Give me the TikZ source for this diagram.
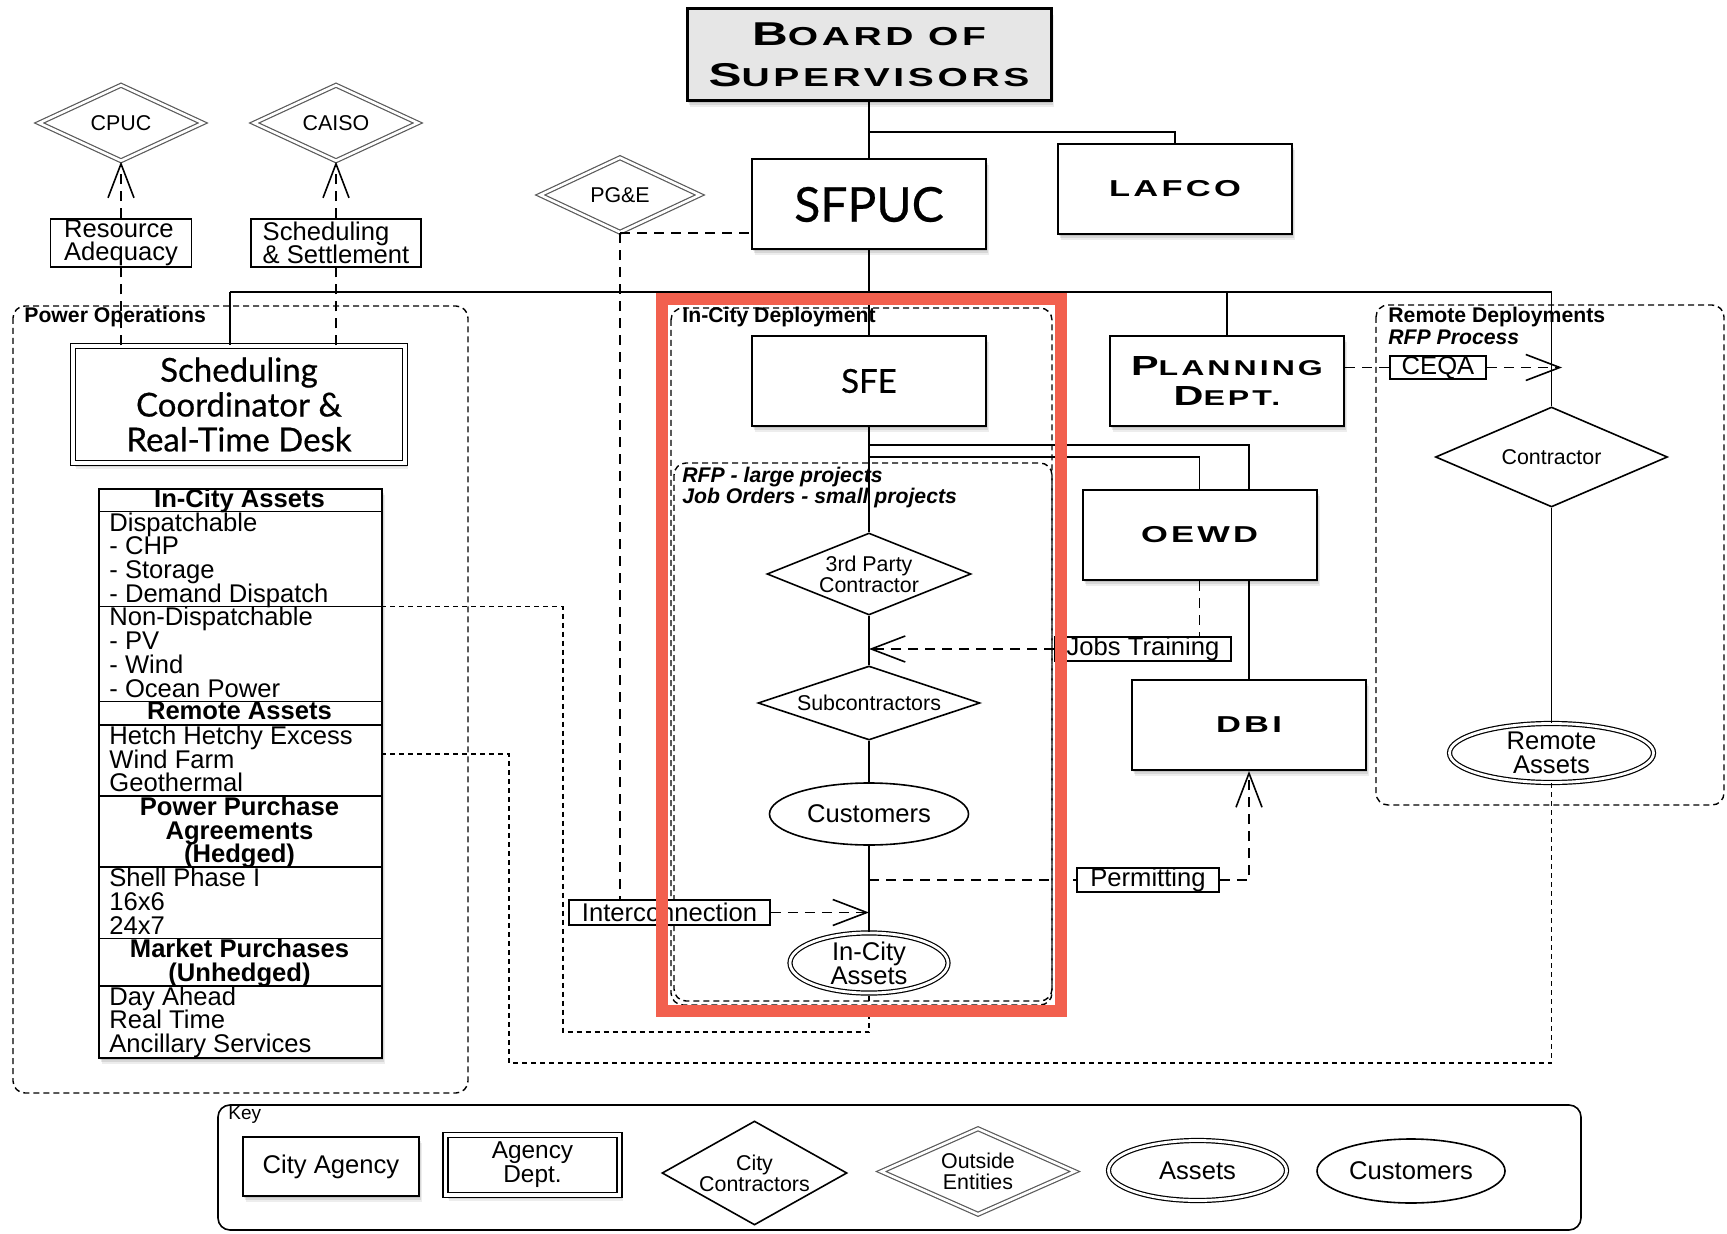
\documentclass[tikz,border=0pt]{standalone}
\usepackage{fontspec}
\setmainfont{Liberation Sans}
\newfontfamily\gillf[FakeBold=0.5]{Lato}
\newfontfamily\copperf[FakeStretch=1.5,LetterSpace=14]{Liberation Sans}
\usepackage{graphicx}
\usetikzlibrary{shapes.geometric,shadows,arrows.meta,calc}
\pgfdeclarelayer{bg}
\pgfdeclarelayer{fg}
\pgfsetlayers{bg,main,fg}
\definecolor{hilite}{RGB}{242,96,78}
\definecolor{boardgray}{RGB}{230,230,230}
\definecolor{extline}{RGB}{90,90,90}
\setlength{\lineskiplimit}{-20pt}
\newcommand{\lbl}{\fontsize{12.8pt}{11.85pt}\selectfont}
\newcommand{\sml}{\fontsize{10.7pt}{10.5pt}\selectfont}
\newcommand{\gsize}[2]{\gillf\fontsize{#1}{#2}\selectfont}
\newcommand{\cpsize}[2]{\copperf\bfseries\fontsize{#1}{#2}\selectfont}
\newcommand{\cpsc}[4]{{\fontsize{#3}{#3}\selectfont #1}{\fontsize{#4}{#4}\selectfont #2}}
\tikzset{
  blurshadow/.style={
    general shadow={fill=black,opacity=0.10,shadow xshift=0.5pt,shadow yshift=-1pt},
    general shadow={fill=black,opacity=0.09,shadow xshift=1pt,shadow yshift=-2pt},
    general shadow={fill=black,opacity=0.07,shadow xshift=1.5pt,shadow yshift=-3pt}},
  agencybox/.style={draw,line width=1pt,fill=white,inner sep=0pt,minimum width=117pt,minimum height=45pt,blurshadow},
  deptbox/.style={draw,line width=0.7pt,double,double distance=1.8pt,fill=white,inner sep=0pt,blurshadow},
  tagbox/.style={draw,line width=0.8pt,fill=white,inner sep=0pt,font=\lbl},
  extdiamond/.style={diamond,draw=extline,line width=0.6pt,double,double distance=1.3pt,fill=white,inner sep=0pt,font=\sml,align=center},
  contrdiamond/.style={diamond,draw,line width=0.8pt,fill=white,inner sep=0pt,font=\sml,align=center},
  assetell/.style={ellipse,draw,line width=0.6pt,double,double distance=1.4pt,fill=white,inner sep=0pt,font=\lbl,align=center},
  custell/.style={ellipse,draw,line width=0.8pt,fill=white,inner sep=0pt,font=\lbl},
  groupbox/.style={draw,line width=0.7pt,dash pattern=on 3pt off 2pt,rounded corners=6pt},
  grouplbl/.style={font=\fontsize{10.6pt}{10.6pt}\selectfont\bfseries,inner sep=0pt,anchor=west},
  conn/.style={draw,line width=0.8pt},
  dconn/.style={draw,line width=0.8pt,dash pattern=on 5pt off 3.5pt},
  fdash/.style={draw,line width=0.7pt,dash pattern=on 2.5pt off 2pt},
  barb/.style={-{Straight Barb[length=17pt,width=13pt,line width=0.8pt]}},
  tabtxt/.style={font=\lbl,align=left,inner sep=0pt,anchor=north west},
  tabhead/.style={font=\lbl\bfseries,align=center,inner sep=0pt,anchor=north},
}
\begin{document}
\begin{tikzpicture}[x=0.5pt,y=-0.5pt]
\begin{pgfonlayer}{bg}
\fill[white] (0,0) rectangle (1727,1234);
\end{pgfonlayer}
\useasboundingbox (0,0) rectangle (1727,1234);

% group boxes
\draw[groupbox] (13,306) rectangle (468,1093);
\draw[groupbox] (671,308) rectangle (1052,1005);
\draw[groupbox] (674,463) rectangle (1052,1001);
\draw[groupbox] (1376,305) rectangle (1724,805);
\draw[line width=0.8pt,rounded corners=6pt] (218,1105) rectangle (1581,1230);

% labels of groups
\node[grouplbl] (lpo) at (24,317) {Power Operations};
\node[grouplbl] (lic) at (682,317) {In-City Deployment};
\node[grouplbl,anchor=north west,align=left,font=\fontsize{10.6pt}{10.5pt}\selectfont\bfseries\itshape] (lrfp) at (682,467) {RFP - large projects\\Job Orders - small projects};
\node[grouplbl] (lrd) at (1388,317) {Remote Deployments};
\node[grouplbl,font=\fontsize{10.6pt}{10.6pt}\selectfont\bfseries\itshape] (lrfpp) at (1388,337) {RFP Process};
\node[grouplbl,font=\fontsize{9.5pt}{9.5pt}\selectfont\mdseries] (lkey) at (228,1115) {Key};

% agencies
\node[agencybox,fill=boardgray,line width=1.5pt,minimum width=182pt,minimum height=46pt,align=center,font=\cpsize{16.5pt}{20.5pt}] (bos) at (869,55) {\cpsc{B}{OARD OF}{16.5pt}{13pt}\\\cpsc{S}{UPERVISORS}{16.5pt}{13pt}};
\node[agencybox,font=\gsize{24pt}{24pt}] (sfpuc) at (869,204.5) {SFPUC};
\node[agencybox,font=\cpsize{11.5pt}{11.5pt}] (lafco) at (1175,189) {LAFCO};
\node[agencybox,font=\gsize{16.5pt}{16.5pt}] (sfe) at (869,381) {SFE};
\node[agencybox,align=center,font=\cpsize{13.8pt}{15.4pt}] (plan) at (1227,381) {\cpsc{P}{LANNING}{13.8pt}{10.7pt}\\\cpsc{D}{EPT.}{13.8pt}{10.7pt}};
\node[agencybox,font=\cpsize{11.5pt}{11.5pt}] (oewd) at (1199.5,535) {OEWD};
\node[agencybox,font=\cpsize{11.5pt}{11.5pt}] (dbi) at (1249,725) {DBI};
\node[deptbox,minimum width=166pt,minimum height=58.5pt,align=center,font=\gsize{16.5pt}{17.4pt}] (sc) at (239,404.5) {Scheduling\\Coordinator \&\\Real-Time Desk};

% tag boxes
\node[tagbox,minimum width=70.5pt,minimum height=24pt,align=left] (rad) at (121,243) {Resource\\Adequacy};
\node[tagbox,minimum width=85pt,minimum height=24pt,align=left] (sns) at (336,243) {Scheduling\\\& Settlement};

% outside entities
\node[extdiamond,minimum width=82pt,minimum height=38pt,aspect=2.1] (cpuc) at (121,123) {CPUC};
\node[extdiamond,minimum width=82pt,minimum height=38pt,aspect=2.1] (caiso) at (336,123) {CAISO};
\node[extdiamond,minimum width=80pt,minimum height=37.5pt,aspect=2.1] (pge) at (620,195) {PG\&E};

% in-city chain
\node[contrdiamond,minimum width=102pt,minimum height=41pt,aspect=2.49] (tpc) at (869,574) {3rd Party\\Contractor};
\node[contrdiamond,minimum width=111pt,minimum height=37pt,aspect=3] (sub) at (869,703) {Subcontractors};
\node[custell,minimum width=99.5pt,minimum height=31pt] (cust) at (869,814) {Customers};
\node[assetell,minimum width=79pt,minimum height=30pt] (ica) at (869,963) {In-City\\Assets};

% remote chain
\node[contrdiamond,minimum width=116pt,minimum height=50pt,aspect=2.32] (contr) at (1551.5,457) {Contractor};
\node[assetell,minimum width=102pt,minimum height=29.5pt] (ras) at (1551.5,753) {Remote\\Assets};

% connector tags
\node[tagbox,minimum width=88pt,minimum height=12pt] (jt) at (1143,649) {Jobs Training};
\node[tagbox,minimum width=71pt,minimum height=12pt] (perm) at (1148,880) {Permitting};
\node[tagbox,minimum width=100.5pt,minimum height=12.5pt] (ic) at (669.5,912.5) {Interconnection};
\node[tagbox,minimum width=48pt,minimum height=11.5pt] (ceqa) at (1438,367.5) {CEQA};

% assets table
\node[draw,line width=1pt,fill=white,blurshadow,minimum width=141.5pt,minimum height=284.4pt,inner sep=0pt,anchor=north west] (tab) at (98,488) {};
\foreach \k in {1,5,9,10,13,16,19,21}
  \draw[line width=0.8pt] ($(tab.north west)+(0,23.7*\k)$) -- ($(tab.north east)+(0,23.7*\k)$);
\node[tabhead] (h1) at (239.5,488.5) {In-City Assets};
\node[tabtxt] (s1) at (109,512.2) {Dispatchable\\- CHP\\- Storage\\- Demand Dispatch};
\node[tabtxt] (s2) at (109,607) {Non-Dispatchable\\- PV\\- Wind\\- Ocean Power};
\node[tabhead] (h2) at (239.5,701.8) {Remote Assets};
\node[tabtxt] (s3) at (109,725.5) {Hetch Hetchy Excess\\Wind Farm\\Geothermal};
\node[tabhead] (h3) at (239.5,796.6) {Power Purchase\\Agreements\\(Hedged)};
\node[tabtxt] (s4) at (109,867.7) {Shell Phase I\\16x6\\24x7};
\node[tabhead] (h4) at (239.5,938.8) {Market Purchases\\(Unhedged)};
\node[tabtxt] (s5) at (109,986.2) {Day Ahead\\Real Time\\Ancillary Services};

% key
\node[agencybox,line width=0.8pt,minimum width=88pt,minimum height=29.5pt,font=\lbl] (kca) at (331,1166.5) {City Agency};
\node[deptbox,minimum width=87pt,minimum height=30pt,align=center,font=\fontsize{12.2pt}{12pt}\selectfont] (kad) at (532.5,1165) {Agency\\Dept.};
\node[contrdiamond,minimum width=92.5pt,minimum height=52pt,aspect=1.78] (kcc) at (754.5,1173) {City\\Contractors};
\node[extdiamond,minimum width=97pt,minimum height=43pt,aspect=2.2] (koe) at (978,1171.5) {Outside\\Entities};
\node[assetell,minimum width=89pt,minimum height=30pt] (kas) at (1197.5,1170.5) {Assets};
\node[custell,minimum width=94pt,minimum height=32pt] (kcu) at (1411,1171) {Customers};

% solid connectors
\coordinate (bj) at (869,132);
\draw[conn] (bos.south) -- (sfpuc.north);
\draw[conn] (bj) -| (lafco.north);
\coordinate (busL) at (230,292);
\coordinate (busR) at (1551.5,292);
\draw[conn] (busL) -- (busR);
\draw[conn] (sfpuc.south) -- (sfe.north);
\draw[conn] (busL) -- (busL |- sc.north);
\draw[conn] (plan.north |- busL) -- (plan.north);
\draw[conn] (busR) -- (contr.north);
\draw[conn] (contr.south) -- (ras.north);
\draw[conn] (sfe.south) -- (tpc.north);
\draw[conn] (tpc.south) -- (sub.north);
\draw[conn] (sub.south) -- (cust.north);
\draw[conn] (cust.south) -- (ica.north);
\coordinate (j1) at (869,445);
\coordinate (j2) at (869,457);
\begin{pgfonlayer}{bg}
\draw[conn] (j1) -| (dbi.north);
\end{pgfonlayer}
\draw[conn] (j2) -| (oewd.north);

% dashed connectors
\draw[dconn] (sc.north -| rad.south) -- (rad.south);
\draw[dconn,barb] (rad.north) -- (cpuc.south);
\draw[dconn] (sc.north -| sns.south) -- (sns.south);
\draw[dconn,barb] (sns.north) -- (caiso.south);
\draw[dconn] (pge.south) -- (pge.south -| sfpuc.west);
\draw[dconn] (pge.south) -- (pge.south |- ic.north);
\draw[dconn,barb] (ic.east) -- (ic.east -| ica.north);
\draw[dconn] (oewd.south) -- (oewd.south |- jt.north);
\draw[dconn,barb] (jt.west) -- (jt.west -| tpc.south);
\coordinate (pj) at (869,880);
\draw[dconn] (pj) -- (perm.west);
\draw[dconn,barb] (perm.east) -| (dbi.south);
\draw[dconn] (plan.east |- ceqa.west) -- (ceqa.west);
\coordinate (ceqaT) at (1562,367.5);
\draw[dconn,barb] (ceqa.east) -- (ceqaT);

% table links
\coordinate (tD) at (381,606.5);
\coordinate (tW) at (381,754);
\draw[fdash] (tD) -| (563,1032) -| (ica.south);
\draw[fdash] (tW) -| (509,1063) -| (ras.south);

% highlight
\begin{pgfonlayer}{fg}
\draw[hilite,line width=6pt] (662,299) rectangle (1061,1010.5);
\end{pgfonlayer}
\end{tikzpicture}
\end{document}
